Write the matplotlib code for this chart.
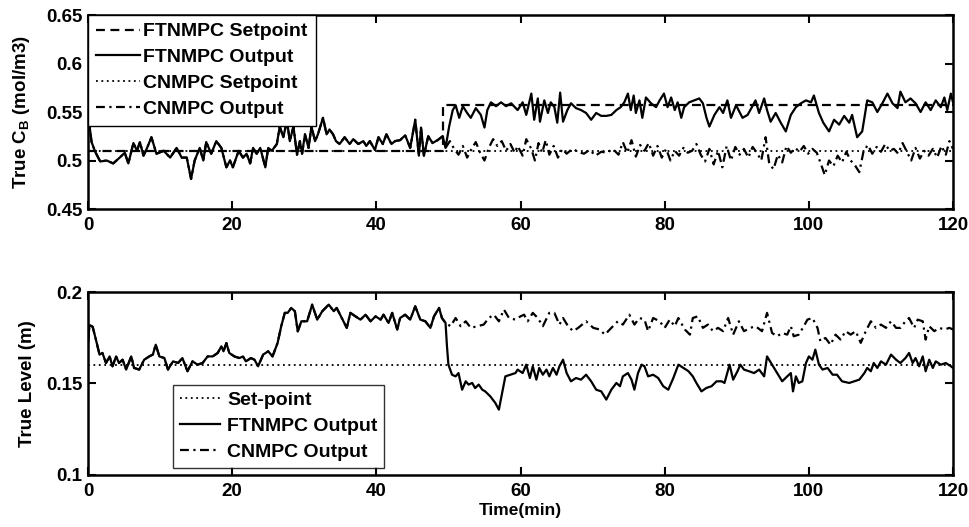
import matplotlib
matplotlib.use('Agg')
import matplotlib.pyplot as plt
import numpy as np
from matplotlib.ticker import FuncFormatter

# ---- data (time in min) ----
# top panel: concentration C_B; both controllers identical before ~49.6 min
cb_shared = [(0.0, 0.548), (0.5, 0.519), (1.0, 0.509), (1.7, 0.499), (2.6, 0.500), (3.5, 0.497),
             (4.4, 0.503), (5.1, 0.508), (5.6, 0.497), (6.3, 0.518), (6.8, 0.510), (7.2, 0.519),
             (7.7, 0.505), (8.2, 0.513), (8.8, 0.524), (9.5, 0.507), (10.5, 0.510), (11.4, 0.503),
             (12.3, 0.513), (13.0, 0.503), (13.7, 0.503), (14.3, 0.481), (14.8, 0.500), (15.5, 0.513),
             (16.0, 0.500), (16.4, 0.519), (17.1, 0.507), (17.8, 0.520), (18.5, 0.513), (19.2, 0.493),
             (19.7, 0.500), (20.1, 0.493), (20.9, 0.510), (21.5, 0.503), (22.0, 0.507), (22.5, 0.497),
             (22.9, 0.513), (23.4, 0.507), (23.9, 0.513), (24.6, 0.493), (25.0, 0.513), (25.5, 0.510),
             (26.2, 0.517), (26.6, 0.535), (27.1, 0.524), (27.6, 0.541), (28.0, 0.520), (28.5, 0.535),
             (29.0, 0.506), (29.4, 0.520), (29.7, 0.507), (30.1, 0.527), (30.6, 0.513), (31.0, 0.535),
             (31.5, 0.520), (31.9, 0.527), (32.6, 0.544), (33.1, 0.527), (33.5, 0.532), (34.0, 0.527),
             (34.4, 0.520), (34.9, 0.517), (35.6, 0.524), (36.3, 0.517), (36.8, 0.522), (37.5, 0.517),
             (38.2, 0.520), (38.6, 0.515), (39.1, 0.520), (39.8, 0.511), (40.3, 0.524), (40.9, 0.517),
             (41.4, 0.527), (42.1, 0.517), (42.6, 0.520), (43.3, 0.521), (44.0, 0.526), (44.7, 0.513),
             (45.4, 0.542), (45.9, 0.505), (46.2, 0.534), (46.6, 0.505), (47.2, 0.525), (47.8, 0.518),
             (48.5, 0.521), (49.2, 0.525), (49.6, 0.513)]

cb_ftnmpc = [(50.1, 0.535), (50.6, 0.552), (51.0, 0.557), (51.5, 0.544), (52.0, 0.556), (52.6, 0.549),
             (53.1, 0.544), (53.8, 0.554), (54.5, 0.547), (55.0, 0.534), (55.4, 0.552), (55.9, 0.560),
             (56.6, 0.556), (57.3, 0.560), (58.0, 0.556), (58.7, 0.559), (59.6, 0.552), (60.3, 0.560),
             (60.8, 0.547), (61.5, 0.569), (61.9, 0.542), (62.4, 0.564), (62.7, 0.540), (63.3, 0.562),
             (63.8, 0.549), (64.2, 0.560), (64.7, 0.555), (65.1, 0.539), (65.5, 0.570), (65.9, 0.540),
             (66.5, 0.552), (67.0, 0.559), (67.7, 0.554), (68.4, 0.552), (69.1, 0.549), (69.8, 0.542),
             (70.5, 0.549), (71.2, 0.546), (71.9, 0.546), (72.6, 0.547), (73.3, 0.552), (73.9, 0.555),
             (74.4, 0.560), (74.9, 0.569), (75.3, 0.552), (75.7, 0.567), (76.0, 0.549), (76.5, 0.562),
             (76.9, 0.544), (77.4, 0.565), (78.1, 0.559), (78.8, 0.555), (79.3, 0.562), (79.9, 0.569),
             (80.4, 0.555), (80.9, 0.565), (81.4, 0.552), (81.8, 0.560), (82.3, 0.544), (82.7, 0.555),
             (83.4, 0.560), (84.1, 0.562), (84.8, 0.564), (85.3, 0.559), (85.8, 0.544), (86.2, 0.535),
             (86.9, 0.547), (87.6, 0.555), (88.1, 0.549), (88.7, 0.562), (89.2, 0.544), (89.9, 0.557),
             (90.8, 0.544), (91.5, 0.547), (92.1, 0.555), (92.6, 0.562), (93.1, 0.549), (93.8, 0.564),
             (94.2, 0.552), (94.7, 0.540), (95.4, 0.549), (96.1, 0.539), (96.8, 0.530), (97.5, 0.547),
             (98.2, 0.555), (98.9, 0.559), (99.6, 0.562), (100.3, 0.560), (100.7, 0.567), (101.4, 0.549),
             (102.0, 0.539), (102.8, 0.530), (103.5, 0.542), (104.2, 0.537), (104.9, 0.546), (105.6, 0.539),
             (106.0, 0.547), (106.7, 0.524), (107.4, 0.530), (108.1, 0.562), (108.8, 0.560), (109.5, 0.550),
             (110.2, 0.559), (110.9, 0.569), (111.6, 0.559), (112.3, 0.554), (112.7, 0.571), (113.4, 0.560),
             (114.1, 0.564), (114.8, 0.559), (115.5, 0.550), (116.2, 0.560), (116.9, 0.552), (117.6, 0.562),
             (118.3, 0.555), (118.8, 0.565), (119.2, 0.552), (119.7, 0.569), (120.0, 0.560)]

cb_cnmpc = [(50.2, 0.520), (50.8, 0.512), (51.4, 0.506), (52.0, 0.515), (52.6, 0.503), (53.2, 0.512),
            (53.8, 0.519), (54.4, 0.508), (55.0, 0.500), (55.6, 0.513), (56.2, 0.522), (56.8, 0.515),
            (57.4, 0.520), (58.0, 0.510), (58.6, 0.517), (59.2, 0.508), (59.6, 0.515), (60.3, 0.505),
            (60.8, 0.522), (61.5, 0.512), (62.0, 0.500), (62.5, 0.518), (63.0, 0.508), (63.5, 0.521),
            (64.0, 0.506), (64.6, 0.515), (65.2, 0.503), (65.8, 0.512), (66.4, 0.507), (67.2, 0.512),
            (68.0, 0.509), (68.8, 0.507), (69.6, 0.511), (70.4, 0.505), (71.2, 0.509), (72.0, 0.508),
            (72.8, 0.512), (73.6, 0.506), (74.2, 0.519), (74.8, 0.508), (75.4, 0.521), (76.0, 0.504),
            (76.6, 0.516), (77.2, 0.510), (77.8, 0.518), (78.4, 0.505), (79.0, 0.515), (79.6, 0.503),
            (80.2, 0.512), (80.8, 0.500), (81.4, 0.510), (82.0, 0.505), (82.6, 0.513), (83.2, 0.508),
            (83.8, 0.510), (84.4, 0.517), (85.0, 0.506), (85.6, 0.499), (86.2, 0.512), (86.8, 0.496),
            (87.4, 0.510), (88.0, 0.493), (88.6, 0.515), (89.2, 0.500), (89.8, 0.514), (90.4, 0.506),
            (91.0, 0.512), (91.6, 0.503), (92.2, 0.514), (92.8, 0.508), (93.4, 0.500), (94.0, 0.524),
            (94.5, 0.497), (95.1, 0.491), (95.7, 0.506), (96.3, 0.498), (96.9, 0.515), (97.5, 0.508),
            (98.1, 0.513), (98.7, 0.509), (99.3, 0.515), (99.9, 0.507), (100.5, 0.512), (101.1, 0.508),
            (101.7, 0.496), (102.2, 0.485), (102.8, 0.500), (103.4, 0.494), (104.0, 0.505), (104.6, 0.498),
            (105.2, 0.509), (105.8, 0.500), (106.4, 0.495), (107.0, 0.488), (107.6, 0.510), (108.2, 0.516),
            (108.8, 0.507), (109.4, 0.514), (110.0, 0.509), (110.6, 0.517), (111.2, 0.510), (111.8, 0.512),
            (112.4, 0.507), (113.0, 0.518), (113.6, 0.509), (114.2, 0.500), (114.8, 0.513), (115.4, 0.502),
            (116.0, 0.510), (116.6, 0.505), (117.2, 0.512), (117.8, 0.503), (118.4, 0.515), (119.0, 0.506),
            (119.5, 0.520), (120.0, 0.512)]

cb_ft_setpoint = [(0.0, 0.51), (49.3, 0.51), (49.3, 0.557), (120.0, 0.557)]
cb_cn_setpoint = [(0.0, 0.51), (120.0, 0.51)]

# bottom panel: liquid level
lvl_shared = [(0.0, 0.172), (0.2, 0.182), (0.65, 0.181), (1.1, 0.174), (1.6, 0.1658), (2.0, 0.1667),
              (2.5, 0.1612), (3.0, 0.1648), (3.4, 0.1594), (3.9, 0.1648), (4.3, 0.1612), (4.8, 0.1630),
              (5.3, 0.1576), (6.0, 0.1648), (6.4, 0.1585), (7.1, 0.1576), (7.8, 0.1630), (8.5, 0.1648),
              (9.0, 0.1658), (9.4, 0.1712), (9.9, 0.1648), (10.6, 0.1639), (11.1, 0.1576), (11.8, 0.1621),
              (12.5, 0.1612), (13.1, 0.1639), (13.8, 0.1567), (14.5, 0.1621), (15.2, 0.1603), (15.9, 0.1612),
              (16.6, 0.1648), (17.3, 0.1648), (18.0, 0.1667), (18.5, 0.1703), (18.8, 0.1676), (19.2, 0.1721),
              (19.6, 0.1667), (20.3, 0.1648), (21.0, 0.1639), (21.5, 0.1648), (21.9, 0.1621), (22.6, 0.1639),
              (23.1, 0.1630), (23.6, 0.1594), (24.3, 0.1658), (25.0, 0.1676), (25.6, 0.1648), (26.3, 0.1721),
              (26.8, 0.1812), (27.3, 0.1886), (27.7, 0.1886), (28.2, 0.1913), (28.7, 0.1895), (29.1, 0.1785),
              (29.6, 0.1840), (30.4, 0.1840), (31.1, 0.1931), (31.8, 0.1849), (32.5, 0.1895), (33.4, 0.1931),
              (34.1, 0.1895), (34.5, 0.1913), (35.2, 0.1858), (35.9, 0.1804), (36.4, 0.1886), (37.1, 0.1867),
              (37.8, 0.1849), (38.5, 0.1876), (39.2, 0.1840), (39.9, 0.1867), (40.6, 0.1849), (41.0, 0.1876),
              (41.7, 0.1831), (42.2, 0.1886), (42.9, 0.1795), (43.3, 0.1858), (44.0, 0.1876), (44.7, 0.1849),
              (45.4, 0.1922), (46.1, 0.1849), (46.8, 0.1840), (47.5, 0.1804), (48.0, 0.1867), (48.7, 0.1913),
              (49.1, 0.1858), (49.6, 0.1831)]

lvl_ftnmpc = [(49.8, 0.1703), (50.0, 0.1603), (50.5, 0.1548), (51.0, 0.1539), (51.4, 0.1557), (51.9, 0.1466),
              (52.4, 0.1512), (52.8, 0.1494), (53.3, 0.1503), (53.7, 0.1475), (54.2, 0.1494), (54.7, 0.1466),
              (55.1, 0.1457), (55.8, 0.1430), (56.5, 0.1394), (57.0, 0.1357), (57.5, 0.1457), (57.9, 0.1539),
              (58.6, 0.1548), (59.3, 0.1557), (59.6, 0.1576), (60.3, 0.1557), (60.8, 0.1603), (61.3, 0.1530),
              (61.7, 0.1594), (62.2, 0.1521), (62.6, 0.1585), (63.1, 0.1548), (63.6, 0.1576), (64.0, 0.1539),
              (64.5, 0.1585), (65.0, 0.1548), (65.4, 0.1594), (65.9, 0.1630), (66.4, 0.1557), (67.0, 0.1512),
              (67.7, 0.1530), (68.4, 0.1521), (69.1, 0.1548), (69.8, 0.1512), (70.5, 0.1466), (71.2, 0.1457),
              (71.9, 0.1412), (72.6, 0.1466), (73.3, 0.1503), (73.8, 0.1485), (74.2, 0.1539), (74.9, 0.1557),
              (75.4, 0.1521), (75.8, 0.1466), (76.3, 0.1557), (76.8, 0.1603), (77.2, 0.1594), (77.7, 0.1539),
              (78.4, 0.1548), (79.1, 0.1530), (79.8, 0.1485), (80.5, 0.1466), (81.2, 0.1530), (81.9, 0.1603),
              (82.6, 0.1585), (83.3, 0.1567), (83.9, 0.1539), (84.4, 0.1503), (85.1, 0.1457), (85.8, 0.1476),
              (86.5, 0.1485), (87.2, 0.1512), (87.9, 0.1512), (88.3, 0.1503), (89.0, 0.1603), (89.5, 0.1521),
              (90.1, 0.1567), (90.5, 0.1603), (91.0, 0.1576), (91.7, 0.1567), (92.4, 0.1557), (93.1, 0.1576),
              (93.8, 0.1539), (94.2, 0.1648), (94.9, 0.1603), (95.6, 0.1557), (96.3, 0.1512), (97.0, 0.1539),
              (97.5, 0.1557), (97.8, 0.1457), (98.2, 0.1539), (98.6, 0.1503), (99.1, 0.1512), (99.6, 0.1612),
              (100.0, 0.1648), (100.5, 0.1630), (100.9, 0.1685), (101.4, 0.1603), (101.9, 0.1576), (102.6, 0.1585),
              (103.3, 0.1548), (103.9, 0.1548), (104.6, 0.1512), (105.6, 0.1503), (106.3, 0.1512), (107.0, 0.1521),
              (107.7, 0.1557), (108.1, 0.1585), (108.6, 0.1567), (109.0, 0.1612), (109.5, 0.1585), (110.0, 0.1621),
              (110.7, 0.1603), (111.4, 0.1658), (112.1, 0.1630), (112.7, 0.1612), (113.4, 0.1639), (113.9, 0.1667),
              (114.4, 0.1612), (114.8, 0.1639), (115.3, 0.1594), (115.8, 0.1648), (116.2, 0.1567), (116.7, 0.1630),
              (117.2, 0.1585), (117.6, 0.1621), (118.3, 0.1603), (119.0, 0.1612), (119.7, 0.1594), (120.0, 0.1585)]

lvl_cnmpc = [(50.3, 0.1813), (51.0, 0.1858), (51.7, 0.1813), (52.4, 0.1840), (53.1, 0.1804), (54.0, 0.1813),
             (54.9, 0.1822), (55.6, 0.1858), (56.3, 0.1876), (57.0, 0.1840), (57.7, 0.1904), (58.4, 0.1858),
             (59.3, 0.1849), (60.0, 0.1867), (60.5, 0.1876), (61.0, 0.1840), (61.7, 0.1886), (62.4, 0.1858),
             (63.1, 0.1813), (64.0, 0.1886), (64.7, 0.1886), (65.4, 0.1822), (65.9, 0.1858), (66.6, 0.1813),
             (67.3, 0.1786), (68.0, 0.1804), (69.1, 0.1840), (70.1, 0.1804), (71.0, 0.1795), (71.7, 0.1767),
             (72.6, 0.1804), (73.5, 0.1840), (74.2, 0.1822), (75.1, 0.1876), (75.8, 0.1822), (76.5, 0.1858),
             (77.2, 0.1849), (77.7, 0.1786), (78.4, 0.1858), (79.3, 0.1840), (80.0, 0.1804), (80.7, 0.1849),
             (81.4, 0.1813), (81.9, 0.1858), (82.8, 0.1795), (83.5, 0.1767), (83.9, 0.1858), (84.6, 0.1867),
             (85.3, 0.1804), (86.0, 0.1822), (86.7, 0.1786), (87.4, 0.1804), (88.1, 0.1786), (88.8, 0.1858),
             (89.5, 0.1767), (90.3, 0.1840), (91.0, 0.1786), (91.9, 0.1804), (92.6, 0.1813), (93.5, 0.1786),
             (94.2, 0.1886), (94.9, 0.1776), (95.6, 0.1758), (96.3, 0.1776), (97.0, 0.1767), (97.5, 0.1813),
             (97.9, 0.1758), (98.6, 0.1767), (99.3, 0.1813), (99.8, 0.1849), (100.5, 0.1858), (101.2, 0.1804),
             (101.6, 0.1731), (102.3, 0.1749), (103.0, 0.1712), (103.7, 0.1767), (104.4, 0.1740), (105.1, 0.1786),
             (105.8, 0.1767), (106.5, 0.1786), (107.2, 0.1722), (107.9, 0.1786), (108.6, 0.1840), (109.3, 0.1804),
             (110.0, 0.1822), (110.7, 0.1804), (111.4, 0.1840), (112.1, 0.1804), (112.7, 0.1804), (113.4, 0.1840),
             (113.9, 0.1858), (114.6, 0.1804), (115.1, 0.1849), (115.8, 0.1840), (116.2, 0.1740), (116.7, 0.1813),
             (117.4, 0.1786), (118.1, 0.1804), (118.8, 0.1795), (119.5, 0.1804), (120.0, 0.1795)]

lvl_setpoint = [(0.0, 0.16), (120.0, 0.16)]


def xy(*parts):
    arr = np.array([p for part in parts for p in part])
    return arr[:, 0], arr[:, 1]


plt.rcParams['font.family'] = ['Liberation Sans', 'DejaVu Sans']
plt.rcParams['font.weight'] = 'bold'
plt.rcParams['mathtext.fontset'] = 'custom'
plt.rcParams['mathtext.rm'] = 'Liberation Sans:bold'
plt.rcParams['mathtext.default'] = 'rm'

fig = plt.figure(figsize=(9.7, 5.27), dpi=100)
ax1 = fig.add_axes([0.0907, 0.6034, 0.8918, 0.3681])
ax2 = fig.add_axes([0.0907, 0.0987, 0.8918, 0.3472])

lw = 1.6
ax1.plot(*xy(cb_ft_setpoint), color='black', lw=lw, ls=(0, (4, 2.5)), label='FTNMPC Setpoint')
ax1.plot(*xy(cb_shared, cb_ftnmpc), color='black', lw=lw, ls='-', label='FTNMPC Output')
ax1.plot(*xy(cb_cn_setpoint), color='black', lw=1.3, ls=(0, (1, 2)), label='CNMPC Setpoint')
ax1.plot(*xy(cb_shared, cb_cnmpc), color='black', lw=lw, ls=(0, (4, 2, 1, 2)), label='CNMPC Output')

ax2.plot(*xy(lvl_setpoint), color='black', lw=1.3, ls=(0, (1, 2)), label='Set-point')
ax2.plot(*xy(lvl_shared, lvl_ftnmpc), color='black', lw=lw, ls='-', label='FTNMPC Output')
ax2.plot(*xy(lvl_shared, lvl_cnmpc), color='black', lw=lw, ls=(0, (4, 2, 1, 2)), label='CNMPC Output')

fmt = FuncFormatter(lambda v, p: '%g' % round(v, 4))
for ax in (ax1, ax2):
    ax.set_xlim(0, 120)
    ax.set_xticks(np.arange(0, 121, 20))
    ax.tick_params(direction='in', top=True, right=True, length=6, width=1.5,
                   labelsize=13.5, pad=4)
    ax.tick_params(axis='x', pad=6)
    for s in ax.spines.values():
        s.set_linewidth(1.8)
    ax.yaxis.set_major_formatter(fmt)

ax1.set_ylim(0.45, 0.65)
ax1.set_yticks([0.45, 0.5, 0.55, 0.6, 0.65])
ax1.set_ylabel(r'True C$_{B}$ (mol/m3)', fontsize=13.5, fontweight='bold', labelpad=10)

ax2.set_ylim(0.1, 0.2)
ax2.set_yticks([0.1, 0.15, 0.2])
ax2.set_ylabel('True Level (m)', fontsize=13.5, fontweight='bold', labelpad=7)
ax2.set_xlabel('Time(min)', fontsize=12.5, fontweight='bold', labelpad=2)

leg1 = ax1.legend(loc='upper left', fontsize=14, frameon=True, fancybox=False,
                  edgecolor='black', handlelength=2.3, handletextpad=0.15,
                  borderaxespad=0.0, labelspacing=0.42, borderpad=0.4)
leg1.get_frame().set_linewidth(1.0)
leg1.get_frame().set_alpha(1)

leg2 = ax2.legend(loc='lower left', bbox_to_anchor=(0.098, 0.04), fontsize=14,
                  frameon=True, fancybox=False, edgecolor='black', handlelength=2.1,
                  handletextpad=0.35, borderaxespad=0.0, labelspacing=0.42, borderpad=0.35)
leg2.get_frame().set_linewidth(1.0)

fig.savefig('out.png', dpi=100)
